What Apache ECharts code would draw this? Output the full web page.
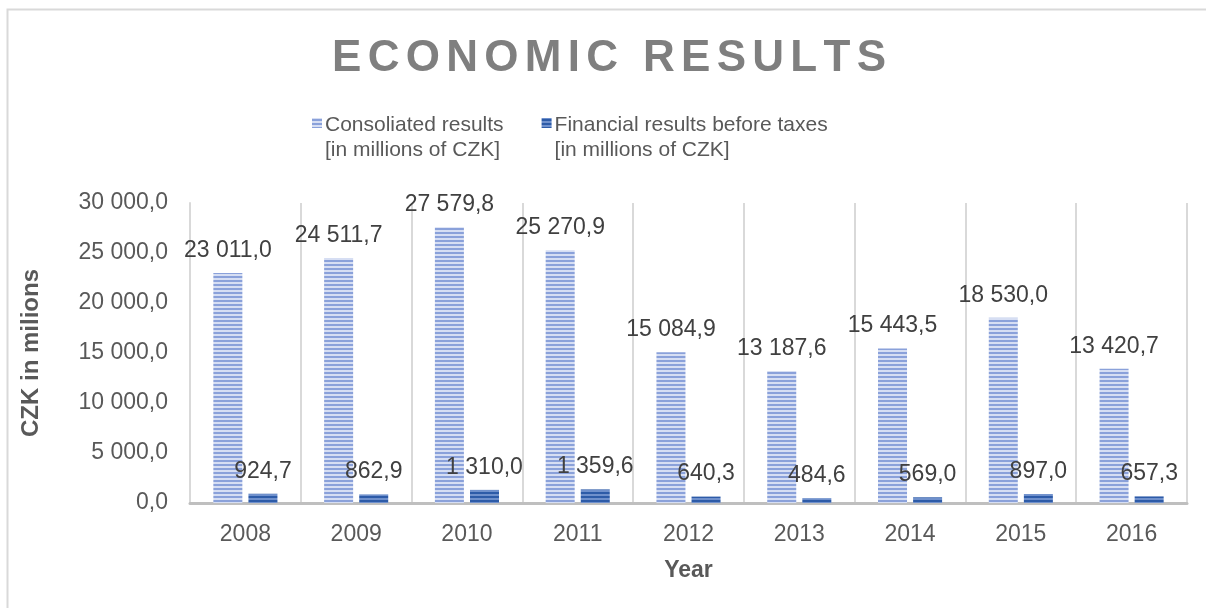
<!DOCTYPE html>
<html>
<head>
<meta charset="utf-8">
<script src="https://cdn.jsdelivr.net/npm/echarts@6/dist/echarts.min.js"></script>
<style>
  html, body { margin: 0; padding: 0; background: #fff; }
  #chart { width: 1206px; height: 608px; }
</style>
</head>
<body>
<div id="chart"></div>
<script>
// Years on the category axis
const years = ['2008', '2009', '2010', '2011', '2012', '2013', '2014', '2015', '2016'];

// Consolidated results, millions of CZK
const consolidated = [23011.0, 24511.7, 27579.8, 25270.9, 15084.9, 13187.6, 15443.5, 18530.0, 13420.7];

// Financial results before taxes, millions of CZK
const financial = [924.7, 862.9, 1310.0, 1359.6, 640.3, 484.6, 569.0, 897.0, 657.3];

// Series names (two-line legend entries)
const seriesNames = [
  'Consoliated results\n[in millions of CZK]',
  'Financial results before taxes\n[in millions of CZK]'
];

const titleText = 'ECONOMIC RESULTS';
const yAxisTitle = 'CZK in milions';
const xAxisTitle = 'Year';

// Value axis ticks
const yMin = 0, yMax = 30000, yStep = 5000;

const FONT = '"Liberation Sans", Arial, sans-serif';

// Number format: space as thousands separator, comma as decimal mark
function fmt(v) {
  const parts = Number(v).toFixed(1).split('.');
  const intPart = parts[0].replace(/\B(?=(\d{3})+(?!\d))/g, ' ');
  return intPart + ',' + parts[1];
}

// Horizontal stripe fill used for the bars
function stripes(lineColor, gapColor) {
  const c = document.createElement('canvas');
  c.width = 4; c.height = 4;
  const g = c.getContext('2d');
  g.fillStyle = gapColor; g.fillRect(0, 0, 4, 4);
  g.fillStyle = lineColor; g.fillRect(0, 0, 4, 2);
  return { image: c, repeat: 'repeat' };
}
const lightFill = stripes('#8aa1da', '#d6def3');
const darkFill = stripes('#2d5ba8', '#6f90cc');

// Spaced-out title built as rich text
const titleRich = titleText.split('').map((ch, i, arr) =>
  (i === arr.length - 1 ? '{e|' : '{l|') + ch + '}').join('');

// Legend marker: square aligned with the first text line
const legendIcon = 'path://M0,0h10v10h-10z M0,40h0.01v0.01h-0.01z';

const chart = echarts.init(document.getElementById('chart'), null, { renderer: 'canvas' });

const labelStyle = {
  show: true,
  position: 'top',
  distance: 11,
  color: '#404040',
  fontSize: 23,
  fontFamily: FONT,
  formatter: p => fmt(p.value)
};

chart.setOption({
  backgroundColor: '#ffffff',
  animation: false,
  graphic: [{
    type: 'rect',
    shape: { x: 7.5, y: 9.5, width: 1220, height: 620 },
    style: { fill: 'none', stroke: '#d9d9d9', lineWidth: 2 },
    silent: true
  }],
  title: {
    text: titleRich,
    left: 327,
    top: 32,
    textStyle: {
      rich: {
        l: { fontSize: 44, fontWeight: 'bold', color: '#7f7f7f',
             fontFamily: FONT, padding: [0, 6.3, 0, 0] },
        e: { fontSize: 44, fontWeight: 'bold', color: '#7f7f7f', fontFamily: FONT }
      }
    }
  },
  legend: {
    left: 307,
    top: 108,
    itemGap: 38,
    itemWidth: 10,
    itemHeight: 46,
    icon: legendIcon,
    textStyle: {
      color: '#595959',
      fontSize: 21,
      lineHeight: 25,
      fontFamily: FONT,
      padding: [0, 0, 0, -2]
    },
    data: seriesNames
  },
  grid: { left: 190, right: 19, top: 203, bottom: 105, containLabel: false },
  xAxis: {
    type: 'category',
    data: years,
    name: xAxisTitle,
    nameLocation: 'middle',
    nameGap: 56,
    nameTextStyle: { color: '#595959', fontSize: 23, fontWeight: 'bold', fontFamily: FONT },
    axisLine: { show: true, lineStyle: { color: '#bfbfbf', width: 3 } },
    axisTick: { show: false },
    splitLine: { show: true, lineStyle: { color: '#d9d9d9', width: 2 } },
    axisLabel: { color: '#595959', fontSize: 23, margin: 20, fontFamily: FONT }
  },
  yAxis: {
    type: 'value',
    min: yMin,
    max: yMax,
    interval: yStep,
    name: yAxisTitle,
    nameLocation: 'middle',
    nameGap: 147,
    nameTextStyle: { color: '#595959', fontSize: 24, fontWeight: 'bold', fontFamily: FONT },
    axisLine: { show: true, lineStyle: { color: '#d9d9d9', width: 2 } },
    axisTick: { show: false },
    splitLine: { show: false },
    axisLabel: { color: '#595959', fontSize: 23, margin: 22, fontFamily: FONT,
                 formatter: v => fmt(v) }
  },
  series: [
    {
      name: seriesNames[0],
      type: 'bar',
      data: consolidated,
      barWidth: 29,
      barGap: '21%',
      itemStyle: { color: lightFill },
      label: labelStyle
    },
    {
      name: seriesNames[1],
      type: 'bar',
      data: financial,
      barWidth: 29,
      itemStyle: { color: darkFill },
      label: labelStyle
    }
  ]
});
</script>
</body>
</html>
